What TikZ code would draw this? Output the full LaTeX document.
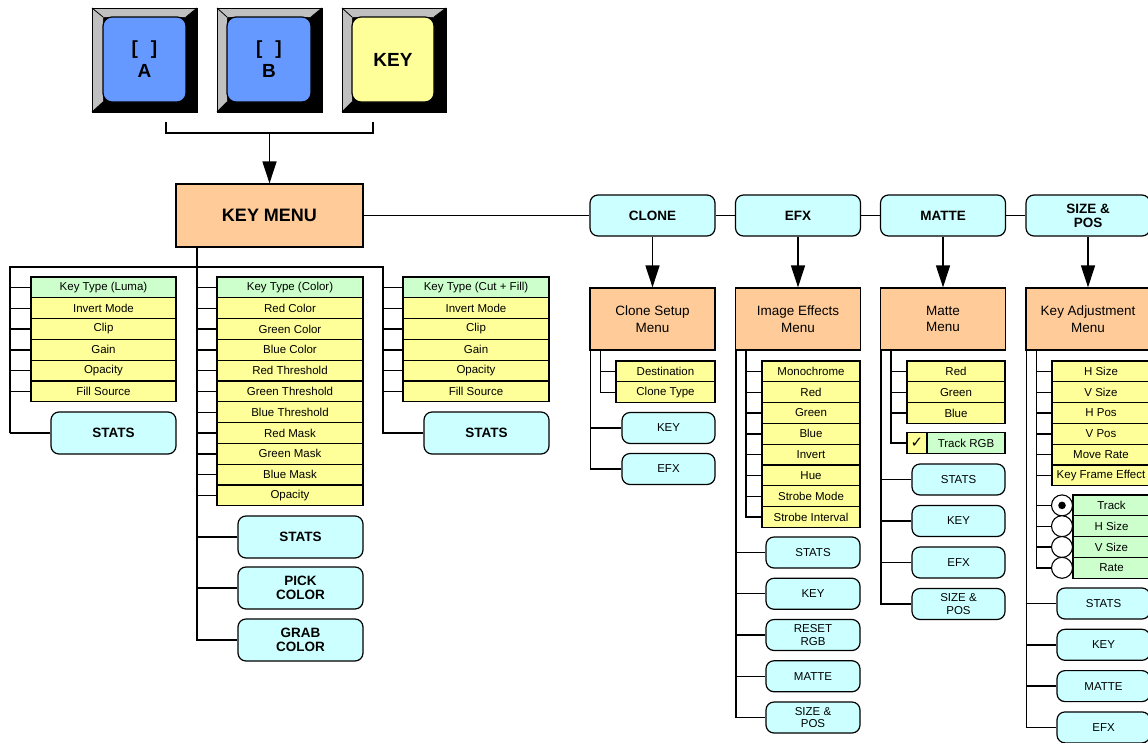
\documentclass[tikz,border=0pt]{standalone}
\usepackage{fontspec}
\setmainfont{Liberation Sans}
\newfontfamily\symfont{DejaVu Sans}
\usetikzlibrary{arrows.meta}
\definecolor{peach}{HTML}{FFCC99}
\definecolor{cyn}{HTML}{CCFFFF}
\definecolor{ylw}{HTML}{FFFF99}
\definecolor{grn}{HTML}{CCFFCC}
\definecolor{blu}{HTML}{6699FF}
\definecolor{bev}{HTML}{C0C0C0}
\begin{document}
\begin{tikzpicture}[x=1pt,y=-1pt,
 conn/.style={line width=1.4pt},
 arr/.style={line width=1.4pt,-{Triangle[width=14pt,length=22pt]}},
 item/.style={draw,fill=ylw,line width=1.1pt,minimum height=20.8pt,inner sep=0pt,font=\fontsize{11.5}{13}\selectfont},
 gitem/.style={item,fill=grn},
 btn/.style={draw,fill=cyn,rounded corners=8pt,line width=1.2pt,inner sep=0pt,align=center,font=\fontsize{11.5}{12.5}\selectfont,minimum height=31pt},
 bbtn/.style={btn,font=\bfseries\fontsize{13.5}{14}\selectfont,minimum height=42pt},
 menu/.style={draw,fill=peach,line width=1.2pt,inner sep=0pt,align=center,font=\fontsize{13.5}{16.5}\selectfont,minimum width=125pt,minimum height=62pt},
 capbevel/.style={fill=bev},
 capface/.style={draw,line width=1.2pt,rounded corners=9pt,inner sep=0pt,align=center,font=\bfseries\fontsize{19}{23}\selectfont},
 radio/.style={circle,draw,fill=white,line width=1.1pt,minimum size=21pt,inner sep=0pt},
]
\useasboundingbox (0,0) rectangle (1148,742);

% ---------- key caps ----------
\newcommand\keycap[4]{% ox0 ox1 ix0 ix1
 \fill[black] (#1,8) rectangle (#2,112);
 \fill[capbevel] (#1,8) -- (#2,8) -- (#4,17) -- (#3,17) -- (#3,102) -- (#1,112) -- cycle;
 \draw[line width=1pt] (#1,8) rectangle (#2,112);
 \draw[line width=0.8pt] (#1,8)--(#3,17) (#2,8)--(#4,17) (#1,112)--(#3,102) (#2,112)--(#4,102);
}
\keycap{92}{197}{103}{186}
\keycap{217}{322}{227}{311}
\keycap{342}{446}{352}{434}
\node[capface,fill=blu,minimum width=83pt,minimum height=85pt] (bA) at (144.5,59.5) {[\hspace{13pt}]\\A};
\node[capface,fill=blu,minimum width=84pt,minimum height=85pt] (bB) at (269,59.5) {[\hspace{13pt}]\\B};
\node[capface,fill=ylw,minimum width=82pt,minimum height=85pt] (bK) at (393,59.5) {KEY};

% ---------- key menu ----------
\node[draw,fill=peach,line width=1.2pt,minimum width=187pt,minimum height=63pt,font=\bfseries\fontsize{18}{20}\selectfont] (KM) at (269.5,215.5) {KEY MENU};
\coordinate (brl) at (166,122);
\coordinate (brr) at (373,122);
\coordinate (brm) at (269.5,133);
\draw[conn] (brl) -- (brl |- brm) -- (brr |- brm) -- (brr);
\draw[arr] (brm) -- (KM.north);

% ---------- left columns ----------
\coordinate (sL) at (10,267);
\coordinate (sC) at (197,267);
\coordinate (sR) at (383,267);

\node[gitem,minimum width=145pt] (L0) at (103.5,287.4) {Key Type (Luma)};
\foreach \t [count=\i] in {Invert Mode,Clip,Gain,Opacity,Fill Source}
  \node[item,minimum width=145pt] (L\i) at (103.5,287.4+20.8*\i) {\t};
\node[gitem,minimum width=146pt] (C0) at (290,287.4) {Key Type (Color)};
\foreach \t [count=\i] in {Red Color,Green Color,Blue Color,Red Threshold,Green Threshold,Blue Threshold,Red Mask,Green Mask,Blue Mask,Opacity}
  \node[item,minimum width=146pt] (C\i) at (290,287.4+20.8*\i) {\t};
\node[gitem,minimum width=146pt] (K0) at (476,287.4) {Key Type (Cut + Fill)};
\foreach \t [count=\i] in {Invert Mode,Clip,Gain,Opacity,Fill Source}
  \node[item,minimum width=146pt] (K\i) at (476,287.4+20.8*\i) {\t};

\node[bbtn,minimum width=125pt] (ST1) at (113.5,433) {STATS};
\node[bbtn,minimum width=125pt] (ST3) at (486.5,433) {STATS};
\node[bbtn,minimum width=125pt] (ST2) at (300.5,537) {STATS};
\node[bbtn,minimum width=125pt] (PICK) at (300.5,588) {PICK\\COLOR};
\node[bbtn,minimum width=125pt] (GRAB) at (300.5,640) {GRAB\\COLOR};

\draw[conn] (sC |- KM.south) -- (sC |- GRAB.west) -- (GRAB.west);
\draw[conn] (sL |- ST1.west) -- (sL) -- (sR) -- (sR |- ST3.west) -- (ST3.west);
\draw[conn] (sL |- ST1.west) -- (ST1.west);
\draw[conn] (ST2.west) -- (ST2.west -| sC) (PICK.west) -- (PICK.west -| sC);
\foreach \i in {0,...,5} {
  \draw[conn] (L\i.west) -- (L\i.west -| sL);
  \draw[conn] (K\i.west) -- (K\i.west -| sR);
}
\foreach \i in {0,...,10}
  \draw[conn] (C\i.west) -- (C\i.west -| sC);

% ---------- top row ----------
\node[bbtn,minimum width=125pt,minimum height=41pt] (CLONE) at (652.5,215.5) {CLONE};
\node[bbtn,minimum width=125pt,minimum height=41pt] (EFXT) at (798,215.5) {EFX};
\node[bbtn,minimum width=125pt,minimum height=41pt] (MATTET) at (943,215.5) {MATTE};
\node[bbtn,minimum width=124pt,minimum height=41pt] (SIZET) at (1088,215.5) {SIZE \&\\POS};
\draw[conn] (KM.east) -- (CLONE.west) (CLONE.east) -- (EFXT.west) (EFXT.east) -- (MATTET.west) (MATTET.east) -- (SIZET.west);

\node[menu] (CSM) at (652.5,319) {Clone Setup\\Menu};
\node[menu] (IEM) at (798,319) {Image Effects\\Menu};
\node[menu] (MM) at (943,319) {Matte\\Menu};
\node[menu,minimum width=124pt] (KAM) at (1088,319) {Key Adjustment\\Menu};
\draw[arr] (CLONE.south) -- (CSM.north);
\draw[arr] (EFXT.south) -- (IEM.north);
\draw[arr] (MATTET.south) -- (MM.north);
\draw[arr] (SIZET.south) -- (KAM.north);

% ---------- clone subtree ----------
\coordinate (cO) at ([xshift=1pt]CSM.south west);
\coordinate (cI) at ([xshift=11pt]CSM.south west);
\node[item,minimum width=99pt] (CD) at (665.5,371.4) {Destination};
\node[item,minimum width=99pt] (CT) at (665.5,392.2) {Clone Type};
\node[btn,minimum width=93pt] (CK) at (668.5,428) {KEY};
\node[btn,minimum width=93pt] (CE) at (668.5,469) {EFX};
\draw[conn] (cI) -- (cI |- CT.west) -- (CT.west) (CD.west) -- (CD.west -| cI);
\draw[conn] (cO) -- (cO |- CE.west) -- (CE.west) (CK.west) -- (CK.west -| cO);

% ---------- efx subtree ----------
\coordinate (eO) at ([xshift=1pt]IEM.south west);
\coordinate (eI) at ([xshift=11pt]IEM.south west);
\foreach \t [count=\i from 0] in {Monochrome,Red,Green,Blue,Invert,Hue,Strobe Mode,Strobe Interval}
  \node[item,minimum width=98pt] (E\i) at (811,371.4+20.8*\i) {\t};
\foreach \t [count=\i from 0] in {STATS,KEY,{RESET\\RGB},MATTE,{SIZE \&\\POS}}
  \node[btn,minimum width=94pt] (EB\i) at (813,552.5+41.25*\i) {\t};
\draw[conn] (eI) -- (eI |- E7.west) -- (E7.west);
\foreach \i in {0,...,6} \draw[conn] (E\i.west) -- (E\i.west -| eI);
\draw[conn] (eO) -- (eO |- EB4.west) -- (EB4.west);
\foreach \i in {0,...,3} \draw[conn] (EB\i.west) -- (EB\i.west -| eO);

% ---------- matte subtree ----------
\coordinate (mO) at ([xshift=1pt]MM.south west);
\coordinate (mI) at ([xshift=11pt]MM.south west);
\foreach \t [count=\i from 0] in {Red,Green,Blue}
  \node[item,minimum width=98pt] (M\i) at (956,371.4+20.8*\i) {\t};
\node[item,minimum width=20pt,font=\symfont\fontsize{15}{15}\selectfont] (MC) at (917,443) {✓};
\node[gitem,minimum width=78pt] (MG) at (966,443) {Track RGB};
\foreach \t [count=\i from 0] in {STATS,KEY,EFX,{SIZE \&\\POS}}
  \node[btn,minimum width=93pt] (MB\i) at (958.5,479.5+41.5*\i) {\t};
\draw[conn] (mI) -- (mI |- MC.west) -- (MC.west);
\foreach \i in {0,...,2} \draw[conn] (M\i.west) -- (M\i.west -| mI);
\draw[conn] (mO) -- (mO |- MB3.west) -- (MB3.west);
\foreach \i in {0,...,2} \draw[conn] (MB\i.west) -- (MB\i.west -| mO);

% ---------- size & pos subtree ----------
\coordinate (kO) at ([xshift=1pt]KAM.south west);
\coordinate (kI) at ([xshift=11pt]KAM.south west);
\foreach \t [count=\i from 0] in {H Size,V Size,H Pos,V Pos,Move Rate,Key Frame Effect}
  \node[item,minimum width=98pt] (S\i) at (1101,371.4+20.8*\i) {\t};
\foreach \t [count=\i from 0] in {Track,H Size,V Size,Rate}
  \node[gitem,minimum width=77pt] (R\i) at (1111.5,505.4+20.8*\i) {\t};
\foreach \i in {0,...,3}
  \node[radio] (O\i) at (1062,505.4+20.8*\i) {};
\fill (O0.center) circle (3.8pt);
\foreach \t [count=\i from 0] in {STATS,KEY,MATTE,EFX}
  \node[btn,minimum width=93pt] (SB\i) at (1103.5,603.5+41.3*\i) {\t};
\draw[conn] (kI) -- (kI |- O3.west) -- (O3.west);
\foreach \i in {0,...,5} \draw[conn] (S\i.west) -- (S\i.west -| kI);
\foreach \i in {0,...,2} \draw[conn] (O\i.west) -- (O\i.west -| kI);
\draw[conn] (kO) -- (kO |- SB3.west) -- (SB3.west);
\foreach \i in {0,...,2} \draw[conn] (SB\i.west) -- (SB\i.west -| kO);
\end{tikzpicture}
\end{document}
